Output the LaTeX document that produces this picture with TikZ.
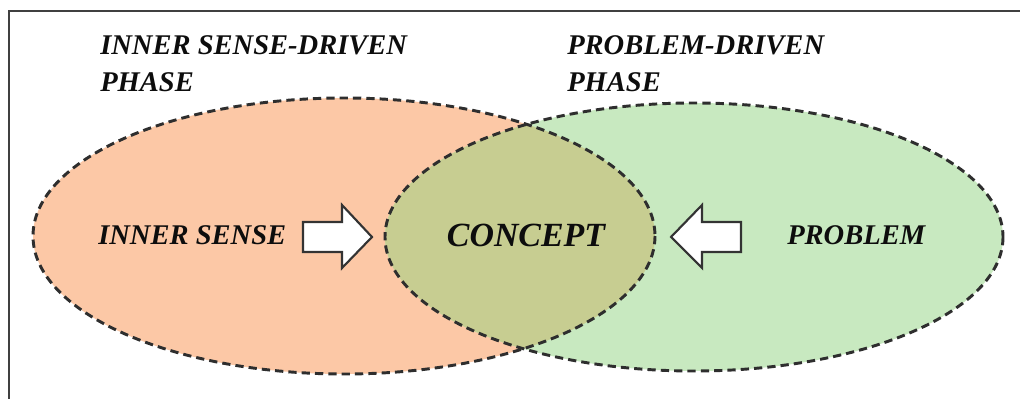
\documentclass[tikz,border=0pt]{standalone}
\usepackage{fontspec}
\setmainfont{Liberation Serif}
\begin{document}
\begin{tikzpicture}[x=0.75pt,y=-0.75pt,
  lbl/.style={inner sep=0pt, anchor=base west, text=black!95,
    font=\fontsize{21.4}{25}\selectfont\bfseries\itshape},
  big/.style={inner sep=0pt, anchor=base, text=black!95,
    font=\fontsize{25.4}{30}\selectfont\bfseries\itshape},
  phase/.style={draw=black!82, line width=2.2pt, dash pattern=on 6.2pt off 3.8pt},
  blockarrow/.style={draw=black!80, line width=1.6pt, fill=white, line join=miter},
  frameline/.style={draw=black!75, line width=1.7pt}]
\definecolor{senseC}{RGB}{252,200,166}
\definecolor{problemC}{RGB}{200,233,192}
\definecolor{conceptC}{RGB}{199,205,145}
\useasboundingbox (0,0) rectangle (1020,399);
\fill[white] (0,0) rectangle (1020,399);

% outer frame (left and top edges)
\draw[frameline] (9,399) -- (9,11) -- (1020,11);

% the two phase regions and their overlap
\fill[senseC] (344,236) ellipse [x radius=311, y radius=138];
\fill[problemC] (694,237) ellipse [x radius=309, y radius=134];
\begin{scope}
  \clip (344,236) ellipse [x radius=311, y radius=138];
  \fill[conceptC] (694,237) ellipse [x radius=309, y radius=134];
\end{scope}
\draw[phase] (344,236) ellipse [x radius=311, y radius=138];
\draw[phase] (694,237) ellipse [x radius=309, y radius=134];

% phase titles
\node[lbl] (t1a) at (100,55) {INNER SENSE-DRIVEN};
\node[lbl] (t1b) at (100,92) {PHASE};
\node[lbl] (t2a) at (567,55) {PROBLEM-DRIVEN};
\node[lbl] (t2b) at (567,92) {PHASE};

% region labels
\node[lbl] (sense) at (98,244) {INNER SENSE};
\node[big] (concept) at (526,246) {CONCEPT};
\node[lbl] (problem) at (787,244) {PROBLEM};

% block arrows pointing into the concept
\draw[blockarrow] (303,222) -- (342,222) -- (342,205) -- (372,237)
  -- (342,268) -- (342,252) -- (303,252) -- cycle;
\draw[blockarrow] (741,222) -- (702,222) -- (702,205) -- (671,237)
  -- (702,268) -- (702,252) -- (741,252) -- cycle;
\end{tikzpicture}
\end{document}
